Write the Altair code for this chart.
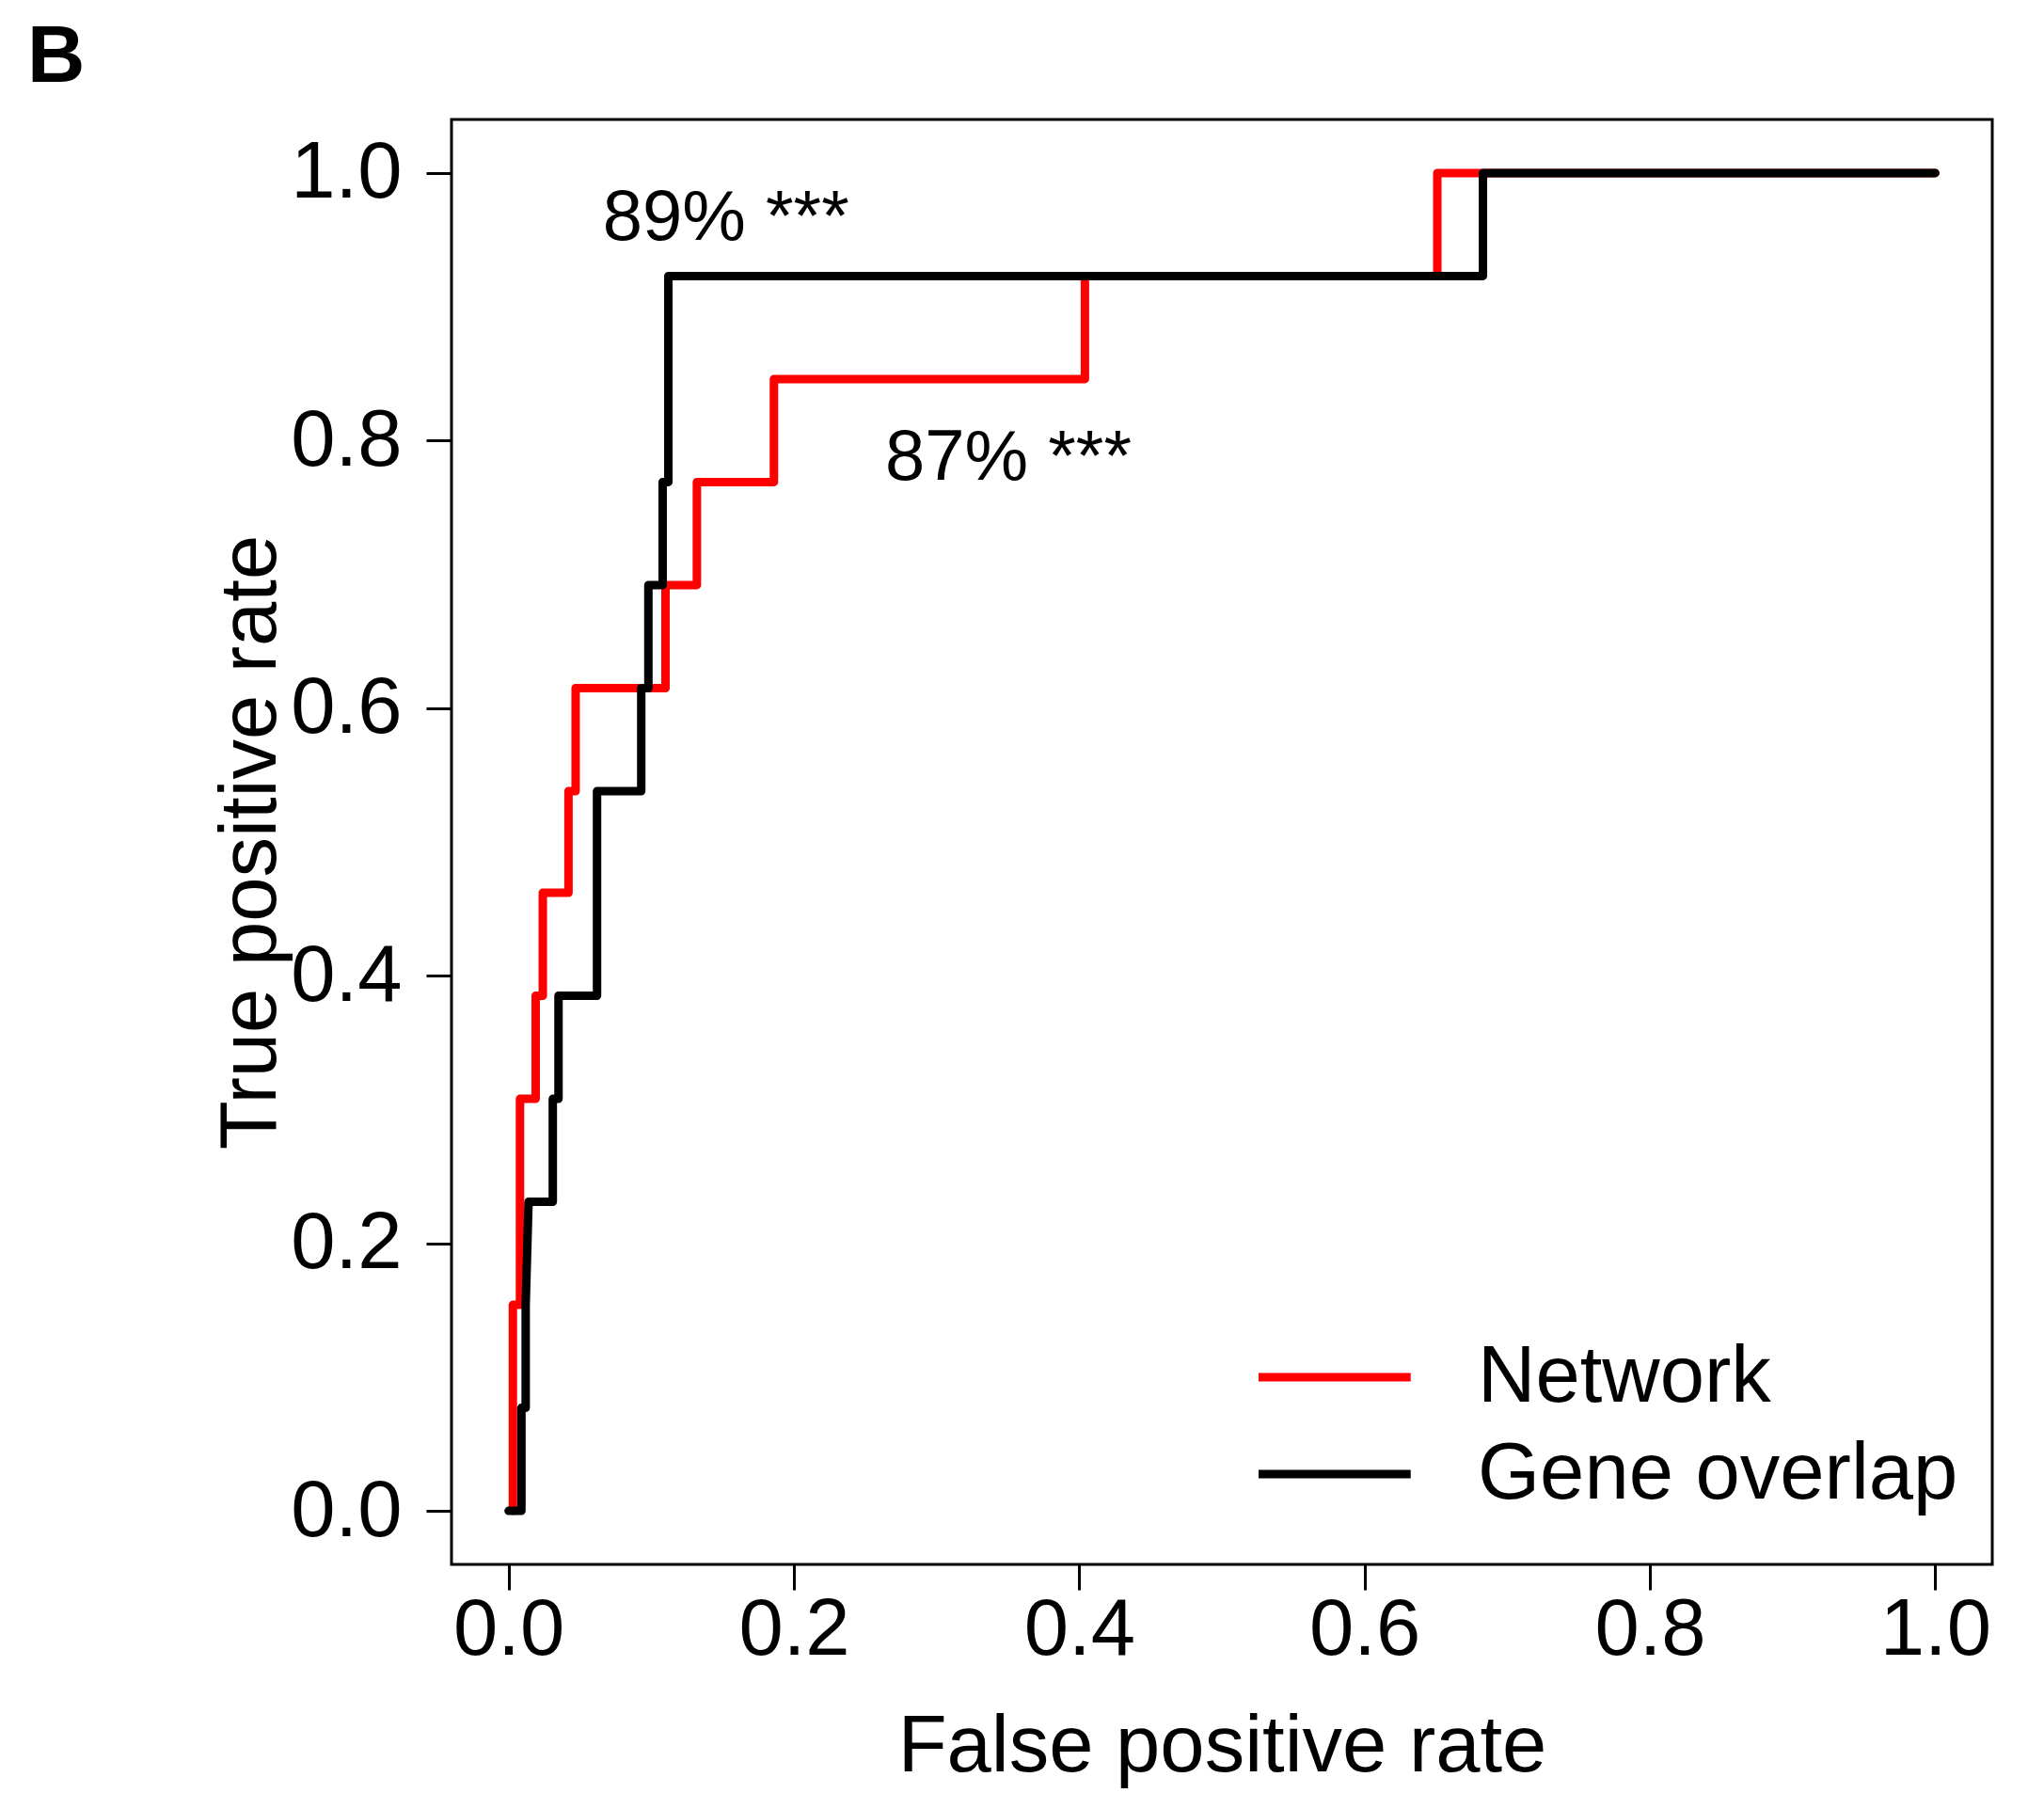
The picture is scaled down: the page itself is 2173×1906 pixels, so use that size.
import altair as alt
import pandas as pd

# ---- data ----
series_names = ["Network", "Gene overlap"]
series_colors = ["#ff0000", "#000000"]

network_fpr = [0.003, 0.003, 0.008, 0.008, 0.019, 0.019, 0.024, 0.024, 0.042, 0.042,
               0.047, 0.047, 0.110, 0.110, 0.132, 0.132, 0.186, 0.186, 0.404, 0.404,
               0.651, 0.651, 1.0]
network_tpr = [0.0, 0.154, 0.154, 0.308, 0.308, 0.385, 0.385, 0.462, 0.462, 0.538,
               0.538, 0.615, 0.615, 0.692, 0.692, 0.769, 0.769, 0.846, 0.846, 0.923,
               0.923, 1.0, 1.0]

overlap_fpr = [0.0, 0.009, 0.009, 0.012, 0.012, 0.014, 0.031, 0.031, 0.035, 0.035,
               0.062, 0.062, 0.093, 0.093, 0.098, 0.098, 0.108, 0.108, 0.112, 0.112,
               0.683, 0.683, 1.0]
overlap_tpr = [0.0, 0.0, 0.077, 0.077, 0.154, 0.231, 0.231, 0.308, 0.308, 0.385,
               0.385, 0.538, 0.538, 0.615, 0.615, 0.692, 0.692, 0.769, 0.769, 0.923,
               0.923, 1.0, 1.0]

tick_values = [0.0, 0.2, 0.4, 0.6, 0.8, 1.0]

ann_labels = ["89% ***", "87%  ***"]
ann_fpr = [0.066, 0.264]
ann_tpr = [0.950, 0.771]

# ---- tables ----
net_df = pd.DataFrame({"fpr": network_fpr, "tpr": network_tpr,
                       "order": list(range(len(network_fpr))),
                       "series": series_names[0]})
ovl_df = pd.DataFrame({"fpr": overlap_fpr, "tpr": overlap_tpr,
                       "order": list(range(len(overlap_fpr))),
                       "series": series_names[1]})
ann_df = pd.DataFrame({"fpr": ann_fpr, "tpr": ann_tpr, "label": ann_labels})

FONT = "Liberation Sans"
xscale = alt.Scale(domain=[-0.04, 1.04], nice=False, zero=False)
yscale = alt.Scale(domain=[-0.04, 1.04], nice=False, zero=False)

x_axis = alt.Axis(values=tick_values, format=".1f", title="False positive rate",
                  domain=False, grid=False, tickSize=27, tickWidth=3, tickColor="black",
                  labelFont=FONT, labelFontSize=85, labelColor="black", labelPadding=1,
                  labelFlush=False, labelBaseline="top",
                  titleFont=FONT, titleFontSize=85, titleFontWeight="normal",
                  titleColor="black", titleY=219, titleBaseline="alphabetic")
y_axis = alt.Axis(values=tick_values, format=".1f", title="True positive rate",
                  domain=False, grid=False, tickSize=27, tickWidth=3, tickColor="black",
                  labelFont=FONT, labelFontSize=85, labelColor="black", labelPadding=26,
                  labelFlush=False, labelBaseline="middle",
                  titleFont=FONT, titleFontSize=85, titleFontWeight="normal",
                  titleColor="black", titleX=-188, titleY=768, titleAngle=270,
                  titleBaseline="alphabetic", titleAlign="center")

color = alt.Color("series:N",
                  scale=alt.Scale(domain=series_names, range=series_colors),
                  sort=series_names,
                  legend=alt.Legend(orient="none", legendX=858, legendY=1294, title=None,
                                    symbolType="M-7.45,0L7.45,0", symbolSize=1024,
                                    symbolStrokeWidth=9, labelFont=FONT, labelFontSize=85,
                                    labelColor="black", labelOffset=148, rowPadding=17,
                                    clipHeight=86, labelLimit=0, padding=0))

def curve(df):
    return alt.Chart(df).mark_line(strokeWidth=9, strokeCap="round", strokeJoin="round").encode(
        x=alt.X("fpr:Q", scale=xscale, axis=x_axis),
        y=alt.Y("tpr:Q", scale=yscale, axis=y_axis),
        color=color,
        order=alt.Order("order:Q"),
    )

texts = alt.Chart(ann_df).mark_text(align="left", baseline="alphabetic", font=FONT,
                                    fontSize=76, color="black").encode(
    x=alt.X("fpr:Q", scale=xscale),
    y=alt.Y("tpr:Q", scale=yscale),
    text="label:N",
)

chart = alt.layer(curve(net_df), curve(ovl_df), texts).properties(
    width=1638, height=1536,
    autosize=alt.AutoSizeParams(type="none"),
    padding={"left": 480, "top": 127, "right": 55, "bottom": 243},
    title=alt.TitleParams("B", anchor="start", frame="group", font=FONT, fontSize=85,
                          fontWeight="bold", color="black", dx=-451, dy=45, offset=0,
                          baseline="alphabetic"),
).configure(background="white").configure_view(stroke="black", strokeWidth=3)

chart.save("out.html", embed_options={"renderer": "svg", "actions": False})
